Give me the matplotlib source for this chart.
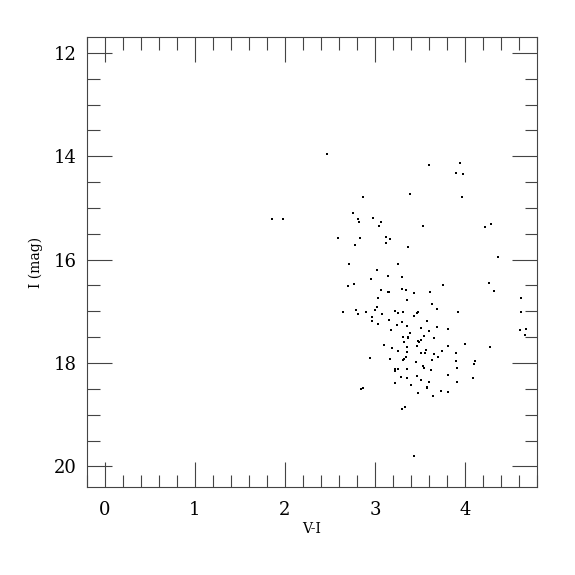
import numpy as np
import matplotlib.pyplot as plt
from matplotlib.ticker import MultipleLocator

# colour V-I and magnitude I of each star
vi = [2.466, 3.596, 3.940, 3.896, 3.973, 3.389, 3.962, 2.865, 1.851, 1.978,
      2.754, 2.809, 2.824, 2.979, 3.068, 3.042, 3.537, 4.217, 4.290, 2.594,
      2.838, 2.783, 3.123, 3.164, 3.126, 3.370, 4.368, 2.710, 3.253, 3.027,
      3.142, 3.300, 2.957, 2.698, 2.765, 4.262, 4.324, 3.755, 3.071, 3.142,
      3.160, 3.300, 3.341, 3.430, 3.611, 3.038, 3.359, 4.623, 3.633, 3.020,
      2.998, 3.692, 2.646, 2.787, 2.816, 2.898, 3.075, 3.220, 3.256, 3.308,
      3.474, 3.467, 3.434, 3.921, 4.627, 2.968, 2.971, 3.153, 3.297, 3.581,
      3.038, 3.245, 3.359, 3.508, 3.692, 3.807, 3.596, 3.178, 3.392, 4.616,
      4.675, 4.667, 3.541, 3.315, 3.367, 3.370, 3.511, 3.659, 3.323, 3.478,
      3.489, 3.101, 3.463, 3.810, 4.002, 4.276, 3.193, 3.359, 3.253, 3.353,
      3.567, 3.508, 3.552, 3.659, 3.741, 3.899, 3.700, 3.345, 2.942, 3.171,
      3.326, 3.315, 3.456, 3.630, 3.899, 4.110, 4.099, 3.533, 3.541, 3.625,
      3.914, 3.220, 3.253, 3.226, 3.359, 3.807, 3.289, 3.359, 3.470, 3.508,
      4.088, 3.603, 3.226, 3.907, 3.397, 2.846, 2.865, 3.574, 3.581, 3.478,
      3.733, 3.814, 3.644, 3.300, 3.330, 3.434]
imag = [13.96, 14.17, 14.13, 14.33, 14.35, 14.73, 14.79, 14.79, 15.21, 15.21,
        15.10, 15.21, 15.28, 15.20, 15.27, 15.35, 15.35, 15.36, 15.31, 15.58,
        15.58, 15.71, 15.57, 15.61, 15.67, 15.76, 15.95, 16.09, 16.09, 16.20,
        16.31, 16.33, 16.38, 16.52, 16.47, 16.45, 16.60, 16.50, 16.58, 16.62,
        16.63, 16.57, 16.58, 16.65, 16.62, 16.74, 16.78, 16.74, 16.85, 16.92,
        16.97, 16.96, 17.01, 16.98, 17.05, 17.02, 17.06, 17.00, 17.03, 17.01,
        17.02, 17.03, 17.09, 17.01, 17.02, 17.11, 17.19, 17.16, 17.21, 17.19,
        17.24, 17.26, 17.28, 17.32, 17.31, 17.34, 17.38, 17.36, 17.42, 17.37,
        17.34, 17.45, 17.47, 17.50, 17.49, 17.52, 17.56, 17.52, 17.60, 17.58,
        17.60, 17.65, 17.68, 17.67, 17.63, 17.69, 17.71, 17.70, 17.77, 17.78,
        17.74, 17.80, 17.81, 17.83, 17.77, 17.80, 17.88, 17.88, 17.91, 17.92,
        17.92, 17.94, 17.98, 17.94, 17.96, 17.97, 18.01, 18.05, 18.09, 18.14,
        18.10, 18.12, 18.11, 18.15, 18.12, 18.23, 18.28, 18.29, 18.26, 18.33,
        18.29, 18.37, 18.39, 18.36, 18.42, 18.51, 18.49, 18.49, 18.47, 18.58,
        18.54, 18.56, 18.63, 18.89, 18.85, 19.80]

plt.rcParams['font.family'] = 'DejaVu Serif'

fig = plt.figure(figsize=(5.75, 5.75), dpi=100)
ax = fig.add_axes([0.151, 0.153, 0.783, 0.782])

ax.scatter(vi, imag, s=2.5, marker='s', color='black', linewidths=0)

ax.set_xlim(-0.2, 4.8)
ax.set_ylim(20.4, 11.7)

ax.xaxis.set_major_locator(MultipleLocator(1))
ax.xaxis.set_minor_locator(MultipleLocator(0.2))
ax.yaxis.set_major_locator(MultipleLocator(2))
ax.yaxis.set_minor_locator(MultipleLocator(0.5))
ax.tick_params(which='both', direction='in', top=True, right=True,
               width=0.8, color='#444444', labelsize=13)
ax.tick_params(axis='x', pad=10)
ax.tick_params(axis='y', pad=7)
ax.tick_params(which='major', length=18)
ax.tick_params(which='minor', length=9)
for s in ax.spines.values():
    s.set_linewidth(0.8)
    s.set_color('#444444')

ax.set_xlabel('V-I', fontsize=10, labelpad=2)
ax.set_ylabel('I (mag)', fontsize=10, labelpad=8)

plt.savefig('out.png', dpi=100)
